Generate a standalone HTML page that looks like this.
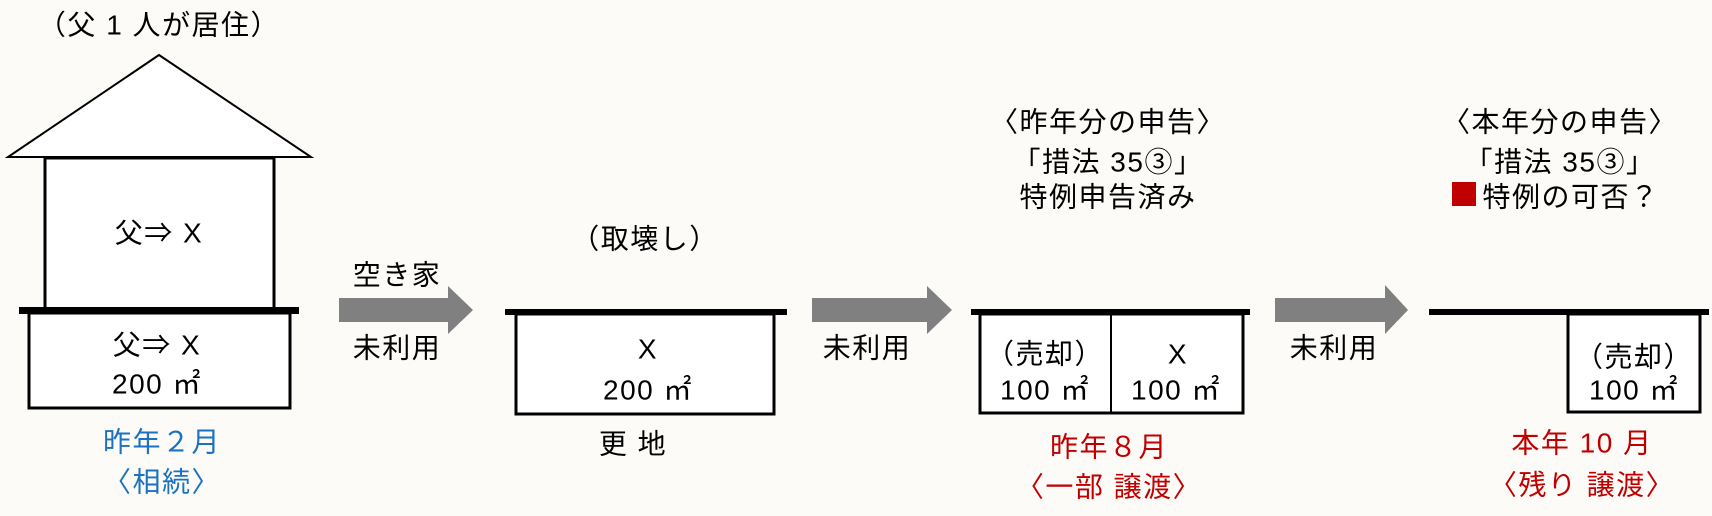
<!DOCTYPE html>
<html><head><meta charset="utf-8"><style>
html,body{margin:0;padding:0;background:#fcfbf7;}
svg{display:block}
text{font-family:"Liberation Sans","Noto Sans CJK JP",sans-serif;font-size:28px;letter-spacing:1.5px;text-anchor:middle;dominant-baseline:central;fill:#000}
.b{fill:#1a72c0}.r{fill:#c00000}
</style></head><body>
<svg width="1712" height="516" viewBox="0 0 1712 516">
<rect width="1712" height="516" fill="#fcfbf7"/>
<!-- house -->
<text x="159" y="25">（父 1 人が居住）</text>
<polygon points="159,55 8,157 311,157" fill="#fff" stroke="#000" stroke-width="2"/>
<rect x="45" y="158" width="229" height="152" fill="#fff" stroke="#000" stroke-width="3"/>
<rect x="29" y="313" width="261" height="95" fill="#fff" stroke="#000" stroke-width="3"/>
<rect x="19" y="307" width="280" height="7" fill="#000"/>
<text x="159" y="233">父⇒ X</text>
<text x="157" y="345">父⇒ X</text>
<text x="157" y="384">200 ㎡</text>
<text x="162" y="442" class="b">昨年２月</text>
<text x="162" y="482" class="b">〈相続〉</text>
<!-- arrow 1 -->
<polygon points="339,298 448,298 448,286 473,310 448,334 448,322 339,322" fill="#808080"/>
<text x="397" y="275">空き家</text>
<text x="397" y="348">未利用</text>
<!-- box 2 -->
<text x="645" y="239">（取壊し）</text>
<rect x="516" y="314" width="258" height="100" fill="#fff" stroke="#000" stroke-width="3"/>
<rect x="505" y="309" width="282" height="6" fill="#000"/>
<text x="648" y="349">X</text>
<text x="648" y="390">200 ㎡</text>
<text x="633" y="444">更 地</text>
<!-- arrow 2 -->
<polygon points="812,298 927,298 927,286 952,310 927,334 927,322 812,322" fill="#808080"/>
<text x="867" y="348">未利用</text>
<!-- box 3 -->
<text x="1108" y="122">〈昨年分の申告〉</text>
<text x="1108" y="162">「措法 35③」</text>
<text x="1108" y="197">特例申告済み</text>
<rect x="980" y="314" width="263" height="99" fill="#fff" stroke="#000" stroke-width="3"/>
<line x1="1111" y1="314" x2="1111" y2="413" stroke="#000" stroke-width="2"/>
<rect x="971" y="309" width="279" height="6" fill="#000"/>
<text x="1045" y="354">（売却）</text>
<text x="1045" y="390">100 ㎡</text>
<text x="1178" y="354">X</text>
<text x="1176" y="390">100 ㎡</text>
<text x="1109" y="447" class="r">昨年８月</text>
<text x="1109" y="487" class="r">〈一部 譲渡〉</text>
<!-- arrow 3 -->
<polygon points="1275,298 1385,298 1385,285 1408,310 1385,334 1385,322 1275,322" fill="#808080"/>
<text x="1334" y="348">未利用</text>
<!-- box 4 -->
<text x="1560" y="122">〈本年分の申告〉</text>
<text x="1560" y="162">「措法 35③」</text>
<rect x="1452" y="182" width="24" height="24" fill="#c00000"/>
<text x="1571" y="197">特例の可否？</text>
<rect x="1568" y="314" width="132" height="98" fill="#fff" stroke="#000" stroke-width="3"/>
<rect x="1429" y="309" width="280" height="6" fill="#000"/>
<text x="1634" y="357">（売却）</text>
<text x="1634" y="390">100 ㎡</text>
<text x="1582" y="443" class="r">本年 10 月</text>
<text x="1582" y="485" class="r">〈残り 譲渡〉</text>
</svg>
</body></html>
